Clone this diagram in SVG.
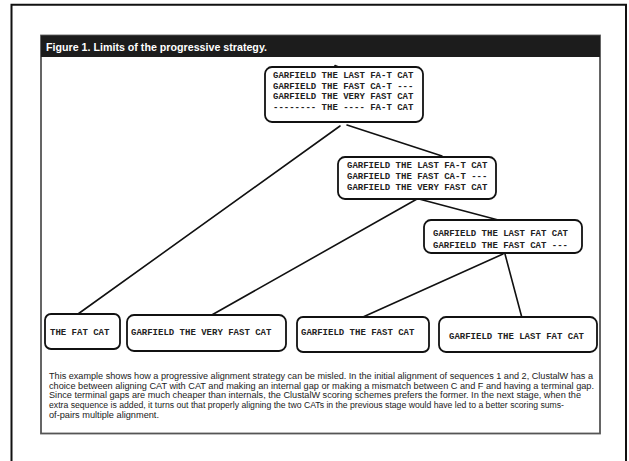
<svg xmlns="http://www.w3.org/2000/svg" width="629" height="461" viewBox="0 0 629 461">
<style>
.node rect{fill:#fff;stroke:#111;stroke-width:1.8}
.seq{font-family:"Liberation Mono","Courier New",monospace;font-weight:bold;font-size:9px;fill:#222}
.cap{font-family:"Liberation Sans",Arial,sans-serif;font-size:9.6px;fill:#222}
#connectors line{stroke:#111;stroke-width:1.6;stroke-linecap:round}
</style>
<rect width="629" height="461" fill="#fff"/>
<g id="frame">
<path d="M11.5,470 V4.8 H626 V470" fill="none" stroke="#111" stroke-width="2"/>
<rect x="41" y="35.5" width="559" height="398" fill="#fff" stroke="#555" stroke-width="1.8"/>
<rect x="41" y="35.5" width="559" height="21.5" fill="#1c1c1c"/>
<text x="46" y="50.5" font-family="Liberation Sans,Arial,sans-serif" font-weight="bold" font-size="11.5px" fill="#fff" textLength="221" lengthAdjust="spacingAndGlyphs">Figure 1. Limits of the progressive strategy.</text>
</g>
<g id="connectors">
<line x1="335" y1="65.5" x2="341" y2="68"/>
<line x1="340" y1="126" x2="78" y2="314"/>
<line x1="347" y1="125" x2="442" y2="156"/>
<line x1="417" y1="199" x2="210" y2="316"/>
<line x1="419" y1="199" x2="502" y2="221"/>
<line x1="503" y1="254" x2="363" y2="317"/>
<line x1="505" y1="254" x2="522" y2="318"/>
</g>
<g id="node-root" class="node">
<rect x="265" y="67" width="158" height="55" rx="7"/>
<text class="seq" x="273" y="78">GARFIELD THE LAST FA-T CAT</text>
<text class="seq" x="273" y="88.5">GARFIELD THE FAST CA-T ---</text>
<text class="seq" x="273" y="99">GARFIELD THE VERY FAST CAT</text>
<text class="seq" x="273" y="109.5">-------- THE ---- FA-T CAT</text>
</g>
<g id="node-three" class="node">
<rect x="338" y="157" width="158" height="42" rx="7"/>
<text class="seq" x="347" y="168">GARFIELD THE LAST FA-T CAT</text>
<text class="seq" x="347" y="179">GARFIELD THE FAST CA-T ---</text>
<text class="seq" x="347" y="190">GARFIELD THE VERY FAST CAT</text>
</g>
<g id="node-two" class="node">
<rect x="424" y="220" width="158" height="33" rx="7"/>
<text class="seq" x="433" y="236">GARFIELD THE LAST FAT CAT</text>
<text class="seq" x="433" y="248">GARFIELD THE FAST CAT ---</text>
</g>
<g id="leaf-1" class="node">
<rect x="45" y="314" width="75" height="35" rx="6"/>
<text class="seq" x="50" y="335">THE FAT CAT</text>
</g>
<g id="leaf-2" class="node">
<rect x="127" y="315" width="159" height="36" rx="7"/>
<text class="seq" x="131" y="335">GARFIELD THE VERY FAST CAT</text>
</g>
<g id="leaf-3" class="node">
<rect x="297" y="317" width="132" height="35" rx="6"/>
<text class="seq" x="301" y="335">GARFIELD THE FAST CAT</text>
</g>
<g id="leaf-4" class="node">
<rect x="439" y="317" width="158" height="35" rx="7"/>
<text class="seq" x="449" y="339">GARFIELD THE LAST FAT CAT</text>
</g>
<g id="caption">
<text class="cap" x="49" y="378.8" textLength="544" lengthAdjust="spacingAndGlyphs">This example shows how a progressive alignment strategy can be misled. In the initial alignment of sequences 1 and 2, ClustalW has a</text>
<text class="cap" x="49" y="388.5" textLength="545" lengthAdjust="spacingAndGlyphs">choice between aligning CAT with CAT and making an internal gap or making a mismatch between C and F and having a terminal gap.</text>
<text class="cap" x="49" y="398.2" textLength="532" lengthAdjust="spacingAndGlyphs">Since terminal gaps are much cheaper than internals, the ClustalW scoring schemes prefers the former. In the next stage, when the</text>
<text class="cap" x="49" y="407.9" textLength="515" lengthAdjust="spacingAndGlyphs">extra sequence is added, it turns out that properly aligning the two CATs in the previous stage would have led to a better scoring sums-</text>
<text class="cap" x="49" y="417.6" textLength="110" lengthAdjust="spacingAndGlyphs">of-pairs multiple alignment.</text>
</g>
</svg>
